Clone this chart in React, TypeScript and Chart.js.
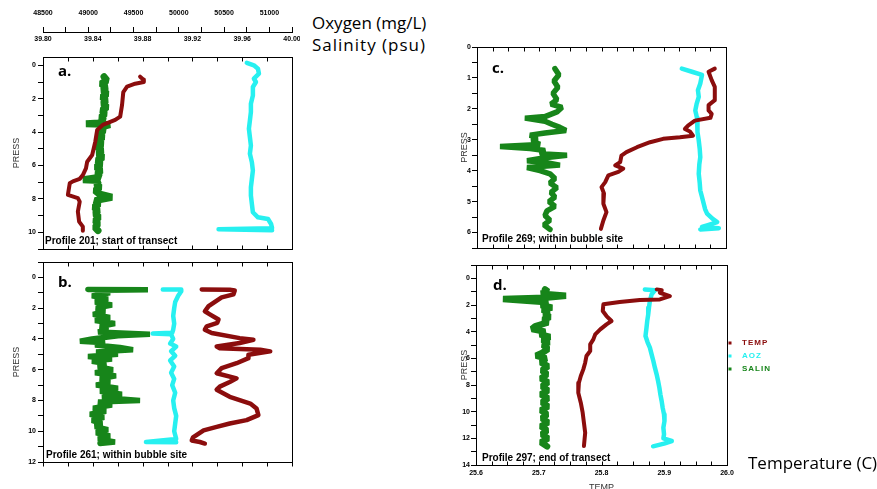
import React, { useEffect, useRef } from 'react';
import { Chart, registerables } from 'chart.js';

Chart.register(...registerables);

const FONT = '"Liberation Sans", Arial, sans-serif';
Chart.defaults.font.family = FONT;
Chart.defaults.color = '#000';

// ---------------- axis ranges & tick labels ----------------
const TEMP_MIN = 25.6;
const TEMP_MAX = 26.0;
const OXY_MIN = 48500;
const OXY_MAX = 51250;
const SAL_MIN = 39.8;
const SAL_MAX = 40.0;

const tempLabelValues = [25.6, 25.7, 25.8, 25.9, 26.0];
const oxyLabelValues = [48500, 49000, 49500, 50000, 50500, 51000];
const salLabelValues = [39.8, 39.84, 39.88, 39.92, 39.96, 40.0];
const pressLabelsA = [0, 2, 4, 6, 8, 10];
const pressLabelsB = [0, 2, 4, 6, 8, 10, 12];
const pressLabelsC = [0, 1, 2, 3, 4, 5, 6];
const pressLabelsD = [0, 2, 4, 6, 8, 10, 12, 14];

const seriesLabels = ['TEMP', 'AOZ', 'SALIN'];
const seriesColors = ['#8B0D0D', '#27F0F0', '#17851A'];

// ---------------- Panel a: Profile 201 ----------------
const aTempP = [0.68, 0.85, 1.0, 1.1, 1.27, 1.6, 2.37, 3.07, 3.27, 3.57, 3.87, 4.57, 5.37, 5.77, 6.17, 6.57, 6.8, 6.95, 7.06, 7.76, 7.95, 8.16, 8.76, 9.36, 9.66, 9.9];
const aTempV = [25.756, 25.761, 25.762, 25.748, 25.735, 25.729, 25.727, 25.724, 25.716, 25.696, 25.687, 25.684, 25.679, 25.671, 25.669, 25.664, 25.659, 25.648, 25.643, 25.640, 25.656, 25.659, 25.656, 25.658, 25.664, 25.664];
const aOxyP = [-0.15, 0.0, 0.2, 0.5, 0.8, 1.0, 1.3, 1.8, 2.3, 2.8, 3.3, 3.8, 4.3, 4.8, 5.3, 5.8, 6.3, 6.8, 7.3, 7.8, 8.3, 8.8, 9.1, 9.2, 9.5, 9.75, 9.82, 9.88];
const aOxyV = [50751, 50829, 50874, 50885, 50829, 50852, 50818, 50818, 50796, 50796, 50785, 50774, 50785, 50796, 50785, 50807, 50818, 50807, 50796, 50796, 50807, 50818, 50874, 50985, 51019, 51030, 50439, 51030];
const aSalP = [0.68, 0.9, 1.1, 1.3, 1.5, 1.7, 1.9, 2.1, 2.3, 2.5, 2.7, 2.9, 3.1, 3.3, 3.45, 3.5, 3.55, 3.7, 3.9, 4.1, 4.3, 4.5, 4.7, 4.9, 5.1, 5.3, 5.5, 5.7, 5.9, 6.1, 6.3, 6.5, 6.7, 6.85, 6.9, 7.1, 7.3, 7.5, 7.7, 7.9, 8.1, 8.3, 8.5, 8.7, 8.9, 9.1, 9.3, 9.5, 9.7, 9.9];
const aSalV = [39.849, 39.8514, 39.8466, 39.8506, 39.8482, 39.8514, 39.8474, 39.8506, 39.8482, 39.8514, 39.8474, 39.8498, 39.8466, 39.849, 39.845, 39.8345, 39.8538, 39.8466, 39.849, 39.845, 39.8482, 39.8442, 39.8474, 39.8434, 39.8474, 39.8442, 39.8482, 39.8434, 39.8466, 39.8426, 39.8466, 39.8434, 39.8458, 39.8321, 39.845, 39.8426, 39.8458, 39.8418, 39.845, 39.8554, 39.8418, 39.845, 39.841, 39.8442, 39.8418, 39.845, 39.8418, 39.8442, 39.8418, 39.8442];

// ---------------- Panel b: Profile 261 ----------------
const bTempP = [0.78, 0.8, 0.85, 1.1, 1.3, 1.87, 2.2, 2.4, 2.74, 2.95, 3.18, 3.4, 3.62, 3.95, 4.05, 4.27, 4.49, 4.6, 4.7, 4.81, 5.03, 5.25, 5.58, 5.9, 6.23, 6.56, 6.8, 7.1, 7.3, 7.76, 8.2, 8.52, 8.95, 9.28, 9.5, 9.72, 9.94, 10.4, 10.6, 10.7, 10.8];
const bTempV = [25.855, 25.9, 25.908, 25.906, 25.887, 25.866, 25.86, 25.868, 25.882, 25.88, 25.863, 25.86, 25.871, 25.916, 25.938, 25.916, 25.879, 25.884, 25.949, 25.965, 25.93, 25.93, 25.911, 25.887, 25.879, 25.911, 25.9, 25.884, 25.879, 25.9, 25.933, 25.943, 25.946, 25.927, 25.9, 25.879, 25.858, 25.841, 25.839, 25.852, 25.86];
const bOxyP = [0.78, 0.78, 0.9, 1.2, 1.6, 2.0, 2.5, 3.0, 3.4, 3.6, 3.65, 3.7, 4.0, 4.3, 4.5, 4.8, 5.1, 5.4, 5.8, 6.2, 6.6, 7.0, 7.5, 8.0, 8.5, 9.0, 9.5, 10.0, 10.5, 10.7, 10.72];
const bOxyV = [49823, 50027, 50027, 49993, 49960, 49949, 49938, 49949, 49938, 49927, 49711, 49915, 49938, 49904, 49971, 49915, 49960, 49904, 49949, 49915, 49949, 49927, 49960, 49938, 49949, 49971, 49960, 49949, 49971, 49637, 49971];
const bSalP = [0.78, 0.8, 0.85, 1.0, 1.2, 1.4, 1.6, 1.8, 2.0, 2.2, 2.4, 2.6, 2.8, 3.0, 3.2, 3.4, 3.55, 3.7, 3.8, 4.0, 4.15, 4.25, 4.4, 4.55, 4.7, 4.85, 5.0, 5.15, 5.3, 5.45, 5.6, 5.8, 6.0, 6.2, 6.4, 6.6, 6.8, 7.0, 7.2, 7.4, 7.6, 7.8, 8.0, 8.1, 8.3, 8.5, 8.7, 8.9, 9.1, 9.3, 9.5, 9.7, 9.9, 10.1, 10.3, 10.5, 10.7, 10.8];
const bSalV = [39.8361, 39.8843, 39.8458, 39.8538, 39.8393, 39.8522, 39.8418, 39.8554, 39.8426, 39.8498, 39.8402, 39.8538, 39.8418, 39.8578, 39.8458, 39.8522, 39.8442, 39.8859, 39.8602, 39.8393, 39.8297, 39.8498, 39.8418, 39.8618, 39.8723, 39.8426, 39.8602, 39.8361, 39.8554, 39.8393, 39.8506, 39.8442, 39.8562, 39.8418, 39.8586, 39.8458, 39.8538, 39.8426, 39.8602, 39.8458, 39.8634, 39.8474, 39.8779, 39.8442, 39.8554, 39.8402, 39.8506, 39.8377, 39.849, 39.8393, 39.8474, 39.8418, 39.8522, 39.8426, 39.8538, 39.8442, 39.8578, 39.8458];

// ---------------- Panel c: Profile 269 ----------------
const cTempP = [0.7, 0.8, 1.07, 1.29, 1.72, 1.88, 2.05, 2.16, 2.29, 2.38, 2.54, 2.65, 2.73, 2.87, 2.92, 2.97, 3.08, 3.24, 3.4, 3.51, 3.72, 3.83, 3.93, 4.04, 4.15, 4.37, 4.53, 4.74, 5.07, 5.34, 5.61, 5.88];
const cTempV = [25.982, 25.972, 25.977, 25.982, 25.982, 25.972, 25.972, 25.977, 25.975, 25.95, 25.939, 25.934, 25.942, 25.947, 25.926, 25.899, 25.878, 25.857, 25.84, 25.832, 25.83, 25.822, 25.835, 25.827, 25.811, 25.806, 25.8, 25.804, 25.803, 25.808, 25.803, 25.799];
const cOxyP = [0.7, 0.8, 0.9, 1.18, 1.4, 1.61, 1.85, 2.05, 2.3, 2.48, 2.75, 3.02, 3.3, 3.56, 3.8, 4.1, 4.4, 4.64, 4.85, 5.07, 5.25, 5.39, 5.55, 5.66, 5.76, 5.82, 5.86, 5.9];
const cOxyV = [50762, 50874, 50985, 50966, 50940, 50949, 50925, 50911, 50930, 50930, 50940, 50949, 50960, 50966, 50955, 50949, 50960, 50966, 50985, 51004, 51020, 51041, 51100, 51153, 51050, 50985, 51171, 50966];
const cSalP = [0.7, 0.9, 1.1, 1.3, 1.5, 1.7, 1.85, 1.95, 2.1, 2.25, 2.3, 2.4, 2.5, 2.6, 2.7, 2.78, 2.85, 2.95, 3.05, 3.15, 3.22, 3.28, 3.35, 3.45, 3.5, 3.58, 3.68, 3.75, 3.82, 3.9, 4.0, 4.1, 4.25, 4.4, 4.55, 4.7, 4.85, 5.0, 5.15, 5.3, 5.45, 5.6, 5.75, 5.9];
const cSalV = [39.8626, 39.8658, 39.8618, 39.865, 39.861, 39.8642, 39.8594, 39.8683, 39.8642, 39.8546, 39.8385, 39.8546, 39.8602, 39.8666, 39.8715, 39.8546, 39.8426, 39.8482, 39.8442, 39.8506, 39.8185, 39.8426, 39.8546, 39.8506, 39.8723, 39.8546, 39.8402, 39.857, 39.8666, 39.8402, 39.8506, 39.8586, 39.8626, 39.8586, 39.8642, 39.8594, 39.8626, 39.8578, 39.8626, 39.8562, 39.8546, 39.8586, 39.8538, 39.8586];

// ---------------- Panel d: Profile 297 ----------------
const dTempP = [0.83, 0.9, 1.08, 1.33, 1.58, 1.63, 1.78, 1.95, 2.45, 2.83, 3.2, 3.45, 3.83, 4.2, 4.58, 4.95, 5.45, 5.83, 6.33, 6.83, 7.33, 7.83, 8.58, 9.33, 10.08, 10.83, 11.58, 12.58];
const dTempV = [25.888, 25.896, 25.893, 25.909, 25.893, 25.861, 25.829, 25.803, 25.802, 25.808, 25.816, 25.808, 25.798, 25.79, 25.787, 25.782, 25.782, 25.776, 25.774, 25.771, 25.767, 25.764, 25.763, 25.767, 25.77, 25.772, 25.774, 25.772];
const dOxyP = [0.83, 0.9, 1.2, 1.7, 2.2, 2.7, 3.2, 3.7, 4.33, 4.8, 5.2, 5.7, 6.2, 6.7, 7.2, 7.7, 8.2, 8.7, 9.2, 9.7, 10.2, 10.7, 11.2, 11.7, 12.0, 12.2, 12.4, 12.6];
const dOxyV = [50350, 50460, 50424, 50405, 50395, 50387, 50376, 50368, 50357, 50380, 50405, 50424, 50443, 50460, 50479, 50495, 50509, 50520, 50534, 50545, 50560, 50565, 50553, 50560, 50553, 50645, 50560, 50440];
const dSalP = [0.83, 1.0, 1.15, 1.3, 1.45, 1.55, 1.65, 1.8, 2.0, 2.2, 2.35, 2.5, 2.7, 2.9, 3.1, 3.3, 3.6, 3.8, 4.0, 4.2, 4.4, 4.6, 4.8, 5.0, 5.3, 5.6, 5.8, 6.0, 6.3, 6.6, 6.9, 7.2, 7.5, 7.8, 8.1, 8.4, 8.7, 9.0, 9.3, 9.6, 9.9, 10.2, 10.5, 10.8, 11.1, 11.4, 11.7, 12.0, 12.3, 12.6];
const dSalV = [39.855, 39.8574, 39.8518, 39.8717, 39.855, 39.8215, 39.8351, 39.8574, 39.8518, 39.8606, 39.8526, 39.8582, 39.8542, 39.859, 39.8534, 39.8574, 39.847, 39.8446, 39.855, 39.851, 39.859, 39.8526, 39.8582, 39.8534, 39.8574, 39.8526, 39.8478, 39.8558, 39.8518, 39.8574, 39.8526, 39.8566, 39.8518, 39.8574, 39.8526, 39.8574, 39.8518, 39.8574, 39.8526, 39.8574, 39.8518, 39.8566, 39.8526, 39.8574, 39.8518, 39.8566, 39.8526, 39.8574, 39.8518, 39.8566];

// ---------------- helpers ----------------
type Box = { left: number; top: number; width: number; height: number };
type Area = { left: number; top: number; right: number; bottom: number };
type Series = { p: number[]; v: number[]; width: number };
type FrameTick = { scale: string; side: 'top' | 'bottom'; len: number };

interface PanelSpec {
  key: string;
  canvas: Box;
  area: Area;
  yMin: number;
  yMax: number;
  yStep: number;
  yLabels: number[];
  yTickPad: number;
  titlePad: number;
  xStep: number;
  xLabels: boolean;
  topAxes: boolean;
  frameTicks: FrameTick[];
  letter: string;
  letterAt: [number, number];
  caption: string;
  captionAt: [number, number];
  temp: Series;
  oxy: Series;
  sal: Series;
  legendAt?: [number, number];
}

const near = (list: number[], v: number) => list.some((l) => Math.abs(l - v) < 1e-6);
const toPts = (p: number[], v: number[]) => p.map((pp, i) => ({ x: v[i], y: pp }));

function decorPlugin(s: PanelSpec) {
  return {
    id: 'decor_' + s.key,
    afterDraw(chart: any) {
      const ctx = chart.ctx as CanvasRenderingContext2D;
      const ca = chart.chartArea;
      const ox = s.canvas.left;
      const oy = s.canvas.top;
      const r = (v: number) => Math.round(v) + 0.5;
      ctx.save();
      ctx.strokeStyle = '#000';
      ctx.lineWidth = 1;
      ctx.strokeRect(r(ca.left), r(ca.top), Math.round(ca.right) - Math.round(ca.left), Math.round(ca.bottom) - Math.round(ca.top));
      ctx.beginPath();
      for (const ft of s.frameTicks) {
        const sc = chart.scales[ft.scale];
        const y0 = ft.side === 'top' ? r(ca.top) : r(ca.bottom);
        const dir = ft.side === 'top' ? 1 : -1;
        for (const t of sc.ticks) {
          const px = r(sc.getPixelForValue(t.value));
          ctx.moveTo(px, y0);
          ctx.lineTo(px, y0 + dir * ft.len);
        }
      }
      ctx.stroke();
      ctx.fillStyle = '#000';
      ctx.textAlign = 'left';
      ctx.textBaseline = 'alphabetic';
      ctx.font = 'bold 15px "Open Sans", sans-serif';
      ctx.fillText(s.letter, s.letterAt[0] - ox, s.letterAt[1] - oy);
      ctx.font = 'bold 10px ' + FONT;
      ctx.fillText(s.caption, s.captionAt[0] - ox, s.captionAt[1] - oy);
      if (s.legendAt) {
        ctx.font = 'bold 8px ' + FONT;
        ctx.textBaseline = 'middle';
        (ctx as any).letterSpacing = '1px';
        chart.data.datasets.forEach((ds: any, i: number) => {
          const x = s.legendAt![0] - ox;
          const y = s.legendAt![1] + i * 13 - oy;
          ctx.fillStyle = ds.borderColor;
          ctx.fillRect(x - 1.5, y - 1.5, 3, 3);
          ctx.fillText(ds.label, x + 12, y);
        });
        (ctx as any).letterSpacing = '0px';
      }
      ctx.restore();
    },
  };
}

function buildConfig(s: PanelSpec): any {
  const c = s.canvas;
  const a = s.area;
  const yW = a.left - c.left;
  const botH = c.top + c.height - a.bottom;
  const topH = a.top - c.top;
  const rightPad = c.left + c.width - a.right;
  const zeroPad = (sc: any) => {
    sc.paddingLeft = 0;
    sc.paddingRight = 0;
    sc.paddingTop = 0;
    sc.paddingBottom = 0;
  };
  const fixW = (w: number) => (sc: any) => {
    sc.width = w;
    zeroPad(sc);
  };
  const fixH = (h: number) => (sc: any) => {
    sc.height = h;
    zeroPad(sc);
  };
  const tickFont = { family: FONT, size: 7, weight: 'bold' as const };

  const scales: any = {
    y: {
      type: 'linear',
      position: 'left',
      reverse: true,
      min: s.yMin,
      max: s.yMax,
      afterFit: fixW(yW),
      ticks: {
        stepSize: s.yStep,
        autoSkip: false,
        includeBounds: false,
        color: '#000',
        font: tickFont,
        padding: s.yTickPad,
        callback: (v: number) => (near(s.yLabels, v) ? String(v) : ''),
      },
      grid: { drawOnChartArea: false, tickLength: 5, color: '#000' },
      border: { display: true, color: '#000' },
      title: { display: true, text: 'PRESS', color: '#333', font: { family: FONT, size: 9 }, padding: { top: s.titlePad, bottom: 0 } },
    },
    xT: {
      type: 'linear',
      position: 'bottom',
      min: TEMP_MIN,
      max: TEMP_MAX,
      afterFit: fixH(botH),
      ticks: {
        display: s.xLabels,
        stepSize: s.xStep,
        autoSkip: false,
        maxRotation: 0,
        includeBounds: false,
        color: '#000',
        font: tickFont,
        padding: 4,
        callback: (v: number) => (near(tempLabelValues, v) ? v.toFixed(1) : ''),
      },
      grid: { display: false, drawTicks: false },
      border: { display: true, color: '#000' },
      title: { display: s.xLabels, text: 'TEMP', color: '#333', font: { family: FONT, size: 9 }, padding: { top: 0, bottom: 3 } },
    },
  };

  if (s.topAxes) {
    scales.xS = {
      type: 'linear',
      position: 'top',
      weight: 1,
      min: SAL_MIN,
      max: SAL_MAX,
      afterFit: fixH(25),
      ticks: {
        stepSize: 0.02,
        autoSkip: false,
        maxRotation: 0,
        includeBounds: false,
        color: '#000',
        font: tickFont,
        padding: 14,
        callback: (v: number) => (near(salLabelValues, v) ? v.toFixed(2) : ''),
      },
      grid: { display: false, drawTicks: false },
      border: { display: true, color: '#000' },
    };
    scales.xO = {
      type: 'linear',
      position: 'top',
      weight: 2,
      min: OXY_MIN,
      max: OXY_MAX,
      afterFit: fixH(topH - 25),
      ticks: {
        stepSize: 250,
        autoSkip: false,
        maxRotation: 0,
        includeBounds: false,
        color: '#000',
        font: tickFont,
        padding: 10,
        callback: (v: number) => (near(oxyLabelValues, v) ? String(v) : ''),
      },
      grid: { drawOnChartArea: false, tickLength: 5, color: '#000' },
      border: { display: true, color: '#000' },
    };
  } else {
    scales.xS = { type: 'linear', display: false, min: SAL_MIN, max: SAL_MAX };
    scales.xO = { type: 'linear', display: false, min: OXY_MIN, max: OXY_MAX };
  }

  const line = (label: string, color: string, axis: string, ser: Series, join: string) => ({
    label,
    data: toPts(ser.p, ser.v),
    xAxisID: axis,
    yAxisID: 'y',
    borderColor: color,
    backgroundColor: color,
    borderWidth: ser.width,
    showLine: true,
    pointRadius: 0,
    tension: 0,
    borderJoinStyle: join,
    borderCapStyle: 'round',
  });

  return {
    type: 'scatter',
    data: {
      datasets: [
        line(seriesLabels[0], seriesColors[0], 'xT', s.temp, 'round'),
        line(seriesLabels[1], seriesColors[1], 'xO', s.oxy, 'round'),
        line(seriesLabels[2], seriesColors[2], 'xS', s.sal, 'bevel'),
      ],
    },
    options: {
      responsive: false,
      animation: false,
      events: [],
      layout: { padding: { left: 0, right: rightPad, top: s.topAxes ? 0 : topH, bottom: 0 } },
      plugins: { legend: { display: false }, title: { display: false }, tooltip: { enabled: false } },
      scales,
    },
    plugins: [decorPlugin(s)],
  };
}

const panels: PanelSpec[] = [
  {
    key: 'a',
    canvas: { left: 0, top: 0, width: 300, height: 256 },
    area: { left: 43, top: 57, right: 292, bottom: 249 },
    yMin: -0.5,
    yMax: 11,
    yStep: 1,
    yLabels: pressLabelsA,
    yTickPad: 2,
    titlePad: 11.6,
    xStep: 0.04,
    xLabels: false,
    topAxes: true,
    frameTicks: [
      { scale: 'xT', side: 'bottom', len: 4 },
      { scale: 'xS', side: 'top', len: 4 },
    ],
    letter: 'a.',
    letterAt: [58, 76],
    caption: 'Profile 201; start of transect',
    captionAt: [45, 244],
    temp: { p: aTempP, v: aTempV, width: 4 },
    oxy: { p: aOxyP, v: aOxyV, width: 4.5 },
    sal: { p: aSalP, v: aSalV, width: 7 },
  },
  {
    key: 'b',
    canvas: { left: 0, top: 256, width: 300, height: 222 },
    area: { left: 43, top: 262, right: 292, bottom: 462 },
    yMin: -1,
    yMax: 12,
    yStep: 1,
    yLabels: pressLabelsB,
    yTickPad: 2,
    titlePad: 11.6,
    xStep: 0.04,
    xLabels: false,
    topAxes: false,
    frameTicks: [
      { scale: 'xT', side: 'bottom', len: -4 },
      { scale: 'xT', side: 'top', len: 4 },
    ],
    letter: 'b.',
    letterAt: [58, 287],
    caption: 'Profile 261; within bubble site',
    captionAt: [46, 458],
    temp: { p: bTempP, v: bTempV, width: 4.5 },
    oxy: { p: bOxyP, v: bOxyV, width: 4.5 },
    sal: { p: bSalP, v: bSalV, width: 5.5 },
  },
  {
    key: 'c',
    canvas: { left: 450, top: 36, width: 285, height: 220 },
    area: { left: 477, top: 47, right: 726, bottom: 248 },
    yMin: 0,
    yMax: 6.5,
    yStep: 0.5,
    yLabels: pressLabelsC,
    yTickPad: 1,
    titlePad: 9,
    xStep: 0.025,
    xLabels: false,
    topAxes: false,
    frameTicks: [
      { scale: 'xT', side: 'bottom', len: 4 },
      { scale: 'xT', side: 'top', len: 4 },
    ],
    letter: 'c.',
    letterAt: [492, 73],
    caption: 'Profile 269; within bubble site',
    captionAt: [482, 242],
    temp: { p: cTempP, v: cTempV, width: 4 },
    oxy: { p: cOxyP, v: cOxyV, width: 4.5 },
    sal: { p: cSalP, v: cSalV, width: 5.5 },
  },
  {
    key: 'd',
    canvas: { left: 450, top: 256, width: 335, height: 240 },
    area: { left: 476, top: 265, right: 727, bottom: 465 },
    yMin: -1,
    yMax: 14,
    yStep: 1,
    yLabels: pressLabelsD,
    yTickPad: 1,
    titlePad: 9,
    xStep: 0.025,
    xLabels: true,
    topAxes: false,
    frameTicks: [
      { scale: 'xT', side: 'bottom', len: 4 },
      { scale: 'xT', side: 'top', len: 4 },
    ],
    letter: 'd.',
    letterAt: [493, 290],
    caption: 'Profile 297; end of transect',
    captionAt: [482, 461],
    temp: { p: dTempP, v: dTempV, width: 4 },
    oxy: { p: dOxyP, v: dOxyV, width: 4.5 },
    sal: { p: dSalP, v: dSalV, width: 6.5 },
    legendAt: [730, 343],
  },
];

function Panel({ spec }: { spec: PanelSpec }) {
  const ref = useRef<HTMLCanvasElement>(null);
  useEffect(() => {
    const chart = new Chart(ref.current as HTMLCanvasElement, buildConfig(spec));
    return () => chart.destroy();
  }, [spec]);
  const c = spec.canvas;
  return (
    <canvas
      ref={ref}
      width={c.width}
      height={c.height}
      style={{ position: 'absolute', left: c.left, top: c.top, width: c.width, height: c.height }}
    />
  );
}

const bigTextStyle = (left: number, baseline: number, extra: React.CSSProperties = {}): React.CSSProperties => ({
  position: 'absolute',
  left,
  top: baseline - 16.6,
  fontFamily: '"Open Sans", sans-serif',
  fontSize: 17,
  lineHeight: '20px',
  color: '#000',
  whiteSpace: 'nowrap',
  zIndex: 2,
  ...extra,
});

export default function App() {
  return (
    <div style={{ position: 'absolute', left: 0, top: 0, width: 877, height: 489, overflow: 'hidden', background: '#fff' }}>
      {panels.map((p) => (
        <Panel key={p.key} spec={p} />
      ))}
      <div style={bigTextStyle(312, 30)}>Oxygen (mg/L)</div>
      <div style={bigTextStyle(312, 52, { letterSpacing: '1px' })}>Salinity (psu)</div>
      <div style={bigTextStyle(748, 470)}>Temperature (C)</div>
    </div>
  );
}
